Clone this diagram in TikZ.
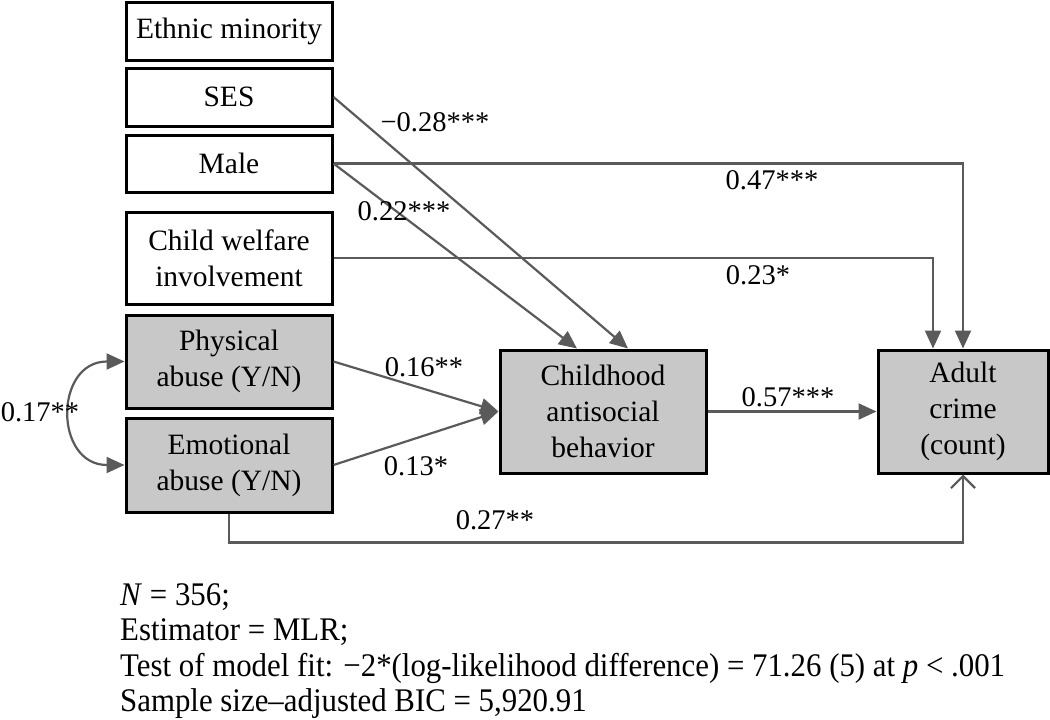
\documentclass[tikz,border=0pt]{standalone}
\usepackage{fontspec}
\setmainfont{Liberation Serif}
\newfontfamily\narrowfont[FakeStretch=0.935]{Liberation Serif}
\usetikzlibrary{arrows.meta,calc}
\definecolor{linegray}{HTML}{5A5A5A}
\definecolor{boxgray}{HTML}{C8C8C8}
\begin{document}
\begin{tikzpicture}[x=1pt,y=-1pt,
  box/.style={draw=black,line width=3pt,minimum width=206pt,align=center,inner sep=2pt,
    font=\fontsize{29.5}{36}\selectfont},
  graybox/.style={box,fill=boxgray},
  path/.style={draw=linegray,line width=2.2pt,-{Triangle[length=18pt,width=16pt]}},
  lbl/.style={font=\fontsize{28.5}{34}\selectfont,inner sep=0pt}]
\useasboundingbox (0,0) rectangle (1050,720);
\node[box,minimum height=58pt] (eth) at (229,31) {Ethnic minority};
\node[box,minimum height=58pt] (ses) at (229,97) {SES};
\node[box,minimum height=57pt] (male) at (229,163.5) {Male};
\node[box,minimum height=92pt] (welf) at (229,258) {Child welfare\\involvement};
\node[graybox,minimum height=93pt] (phys) at (229,361.5) {Physical\\abuse (Y/N)};
\node[graybox,minimum height=94pt] (emo) at (229,465) {Emotional\\abuse (Y/N)};
\node[graybox,minimum height=123pt] (child) at (603,411.5) {Childhood\\antisocial\\behavior};
\node[graybox,minimum width=170pt,minimum height=123pt] (adult) at (963,411.5) {Adult\\crime\\(count)};
\coordinate (emodown) at ($(emo.south)+(0,29)$);
% paths
\draw[path] (ses.east) -- ($(child.north)+(25,0)$);
\draw[path] (male.east) -- ($(child.north)+(-26,0)$);
\draw[path] (male.east) -| (adult.north);
\draw[path] (welf.east) -| ($(adult.north)+(-30,0)$);
\draw[path] (phys.east) -- (child.west);
\draw[path] (emo.east) -- (child.west);
\draw[path] (child.east) -- (adult.west);
\draw[draw=linegray,line width=2.2pt,-{Straight Barb[length=12pt,width=24pt,line width=2.2pt]}] (emo.south) -- (emodown) -| (adult.south);
\draw[draw=linegray,line width=2.2pt,{Triangle[length=18pt,width=16pt]}-{Triangle[length=18pt,width=16pt]}]
  (phys.west) to[out=180,in=180,looseness=1.75] (emo.west);
% labels
\node[lbl] (l1) at (435,122) {−0.28***};
\node[lbl] (l2) at (404,211) {0.22***};
\node[lbl] (l3) at (772,180) {0.47***};
\node[lbl] (l4) at (758,275) {0.23*};
\node[lbl] (l5) at (424,367) {0.16**};
\node[lbl] (l6) at (416,466) {0.13*};
\node[lbl] (l7) at (788,397) {0.57***};
\node[lbl] (l8) at (495,520) {0.27**};
\node[lbl] (l9) at (40,412) {0.17**};
% footnote
\node[anchor=north west,inner sep=0pt,align=left,font=\narrowfont\fontsize{33}{35.5}\selectfont] (note) at (120,583)
 {\textit{N} = 356;\\
  Estimator = MLR;\\
  Test of model fit: −2*(log-likelihood difference) = 71.26 (5) at \textit{p} < .001\\
  Sample size–adjusted BIC = 5,920.91};
\end{tikzpicture}
\end{document}
